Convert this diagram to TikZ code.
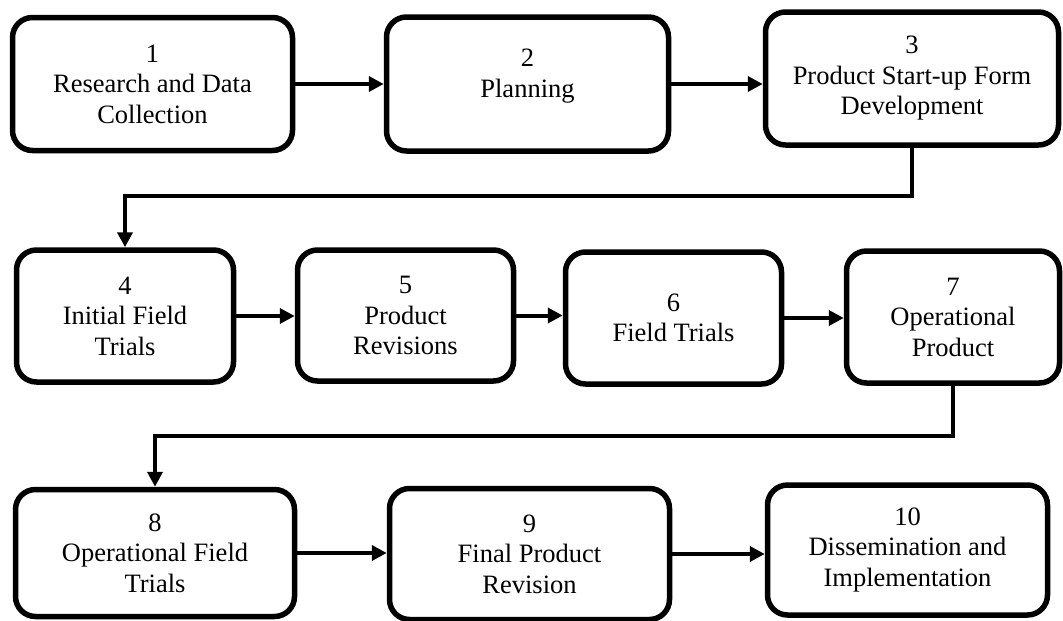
\documentclass[tikz,border=0pt]{standalone}
\usepackage{fontspec}
\setmainfont{Liberation Serif}
\usepackage{tikz}
\usetikzlibrary{arrows.meta,positioning}

\begin{document}
\begin{tikzpicture}[x=1pt, y=-1pt, >={Triangle[length=15pt,width=15pt]},
	stage/.style={draw, line width=5.5pt, rounded corners=20pt, align=center,
		inner sep=0pt, font=\fontsize{26.5}{30.5}\selectfont},
	link/.style={->, line width=4pt}]
	\useasboundingbox (0,0) rectangle (1063,621);
	% row 1
	\node[stage, minimum width=280pt, minimum height=133pt] (b1) at (152.5,84) {1\\Research and Data\\Collection};
	\node[stage, minimum width=282pt, minimum height=134pt, text depth=22pt] (b2) at (527.5,84) {2\\Planning};
	\node[stage, minimum width=293pt, minimum height=133pt] (b3) at (912,78.5) {3\\Product Start-up Form\\Development};
	% row 2
	\node[stage, minimum width=217pt, minimum height=132pt] (b4) at (125,316) {4\\Initial Field\\Trials};
	\node[stage, minimum width=216pt, minimum height=131pt] (b5) at (405.5,315.5) {5\\Product\\Revisions};
	\node[stage, minimum width=216pt, minimum height=132pt] (b6) at (673.5,318) {6\\Field Trials};
	\node[stage, minimum width=213pt, minimum height=132pt] (b7) at (953,317) {7\\Operational\\Product};
	% row 3
	\node[stage, minimum width=279pt, minimum height=127pt] (b8) at (155,553) {8\\Operational Field\\Trials};
	\node[stage, minimum width=280pt, minimum height=131pt] (b9) at (529.5,554) {9\\Final Product\\Revision};
	\node[stage, minimum width=280pt, minimum height=130pt] (b10) at (907.5,550) {10\\Dissemination and\\Implementation};

	\draw[link] (b1) -- (b1 -| b2.west);
	\draw[link] (b2) -- (b2 -| b3.west);
	\draw[link] (b3.south) -- ++(0,48) -| (b4.north);
	\draw[link] (b4) -- (b4 -| b5.west);
	\draw[link] (b5) -- (b5 -| b6.west);
	\draw[link] (b6) -- (b6 -| b7.west);
	\draw[link] (b7.south) -- ++(0,50) -| (b8.north);
	\draw[link] (b8) -- (b8 -| b9.west);
	\draw[link] (b9) -- (b9 -| b10.west);
\end{tikzpicture}
\end{document}
